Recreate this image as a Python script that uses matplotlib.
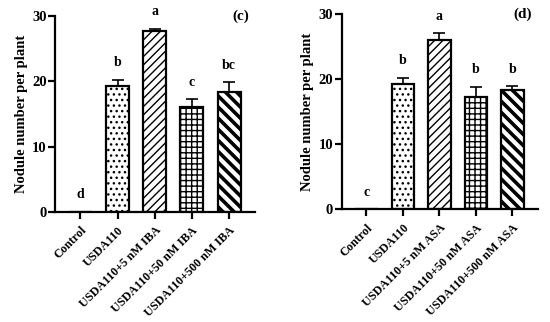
import numpy as np
import matplotlib
matplotlib.use("Agg")
import matplotlib.pyplot as plt

plt.rcParams["font.family"] = "Liberation Serif"
plt.rcParams["font.weight"] = "bold"

# data
labels_iba = ["Control", "USDA110", "USDA110+5 nM IBA", "USDA110+50 nM IBA", "USDA110+500 nM IBA"]
means_iba = [0, 19.3, 27.6, 16.0, 18.3]
err_iba = [0, 0.9, 0.4, 1.2, 1.5]
letters_iba = ["d", "b", "a", "c", "bc"]

labels_asa = ["Control", "USDA110", "USDA110+5 nM ASA", "USDA110+50 nM ASA", "USDA110+500 nM ASA"]
means_asa = [0, 19.3, 26.0, 17.3, 18.3]
err_asa = [0, 0.9, 1.0, 1.5, 0.6]
letters_asa = ["c", "b", "a", "b", "b"]

hatches = ["", "...", "////", "+++", "\\\\\\"]
hatch_lw = [1.0, 1.0, 1.0, 1.0, 2.6]


def panel(ax, labels, means, errs, letters, tag):
    x = np.arange(len(labels))
    for i in x:
        plt.rcParams["hatch.linewidth"] = hatch_lw[i]
        ax.bar(i, means[i], width=0.62, color="white", edgecolor="black",
               linewidth=1.6, hatch=hatches[i], zorder=2)
    ax.errorbar(x, means, yerr=[np.zeros(len(x)), errs], fmt="none",
                ecolor="black", elinewidth=1.2, capsize=4, capthick=1.2, zorder=1)
    for i in x:
        ax.text(i, means[i] + errs[i] + 1.6, letters[i], ha="center", va="bottom",
                fontsize=10, fontweight="bold")
    ax.text(0.97, 1.0, tag, transform=ax.transAxes, ha="right", va="center",
            fontsize=11, fontweight="bold")
    ax.set_xlim(-0.68, 4.7)
    ax.set_ylim(0, 30)
    ax.set_yticks([0, 10, 20, 30])
    ax.set_xticks(x)
    ax.set_xticklabels(labels, rotation=45, ha="right", rotation_mode="anchor",
                       fontsize=8.7, fontweight="bold")
    ax.set_ylabel("Nodule number per plant", fontsize=10.5, fontweight="bold", labelpad=3)
    for lab in ax.get_yticklabels():
        lab.set_fontsize(10.5)
        lab.set_fontweight("bold")
    ax.spines["top"].set_visible(False)
    ax.spines["right"].set_visible(False)
    ax.spines["left"].set_linewidth(1.6)
    ax.spines["bottom"].set_linewidth(1.6)
    ax.tick_params(width=1.6, length=5, pad=1)
    ax.tick_params(axis="x", pad=4)


fig = plt.figure(figsize=(5.5, 3.22), dpi=100)
ax1 = fig.add_axes([0.1, 0.342, 0.364, 0.609])
ax2 = fig.add_axes([0.621, 0.35, 0.357, 0.607])

panel(ax1, labels_iba, means_iba, err_iba, letters_iba, "(c)")
panel(ax2, labels_asa, means_asa, err_asa, letters_asa, "(d)")

fig.savefig("out.png", dpi=100)
